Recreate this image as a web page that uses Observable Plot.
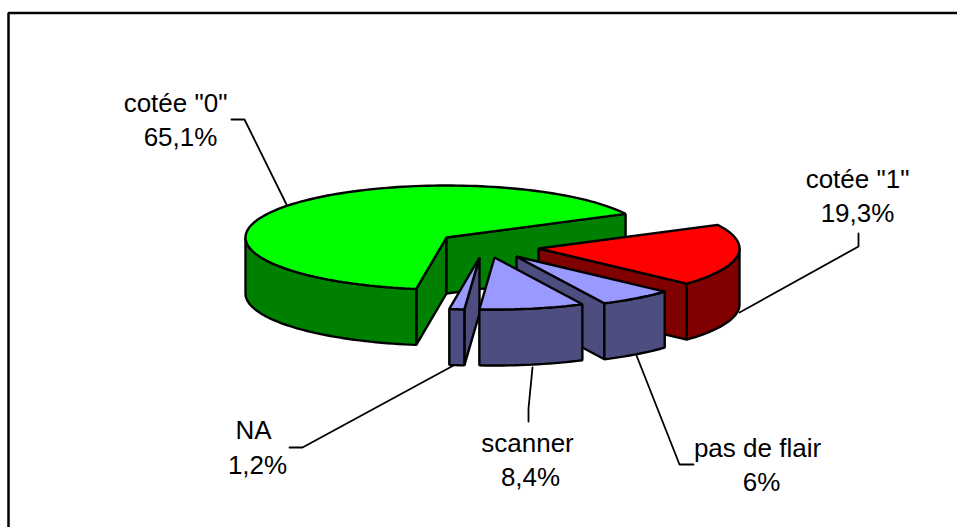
<!DOCTYPE html>
<html>
<head>
<meta charset="utf-8">
<script src="https://cdn.jsdelivr.net/npm/d3@7"></script>
<script src="https://cdn.jsdelivr.net/npm/@observablehq/plot@0.6"></script>
<style>html,body{margin:0;padding:0;background:#fff}svg{display:block}</style>
</head>
<body>
<script>
// Slices, clockwise from the pie's first angle
const categories = ['cotée "1"', "pas de flair", "scanner", "NA", 'cotée "0"'];
const shares = [19.3, 6, 8.4, 1.2, 65.1];

// Styling and layout
const topColors = ["#ff0000", "#9999ff", "#9999ff", "#9999ff", "#00ff00"];
const wallColors = ["#800000", "#4d4d80", "#4d4d80", "#4d4d80", "#008000"];
const hubs = [[538, 248], [516, 256], [494, 257], [479, 257], [446, 237]];
const paintOrder = [4, 0, 1, 3, 2];
const startDeg = 27, rx = 201, ry = 52, depth = 56;
const W = 957, H = 527;

const frame = [[8, H], [8, 12.5], [W, 12.5]];
const labelLines = [
  [[857, 187], [857, 221]],
  [[757, 456], [761, 490]],
  [[527, 451], [530, 485]],
  [[253, 438], [257, 473]],
  [[175, 111], [180, 145]]
];
const leaders = [
  [[858, 233], [858, 246], [739, 312]],
  [[693, 464], [679, 464], [636, 355]],
  [[532, 367], [528, 408], [528, 421]],
  [[289, 447], [302, 447], [453, 365]],
  [[231, 119], [244, 119], [286, 204]]
];

const pie = d3.pie().sort(null)
  .startAngle((90 - startDeg) * Math.PI / 180)
  .endAngle((90 - startDeg + 360) * Math.PI / 180);
const arcs = pie(shares);

const pct = v => String(v).replace(".", ",") + "%";

// a = clock angle, radians from 12 o'clock, clockwise
function arcPoints(hub, a0, a1) {
  const n = Math.max(2, Math.ceil(Math.abs(a1 - a0) / 0.03));
  return d3.range(n + 1).map(i => {
    const a = a0 + (a1 - a0) * i / n;
    return [hub[0] + rx * Math.sin(a), hub[1] - ry * Math.cos(a)];
  });
}
const rim = (hub, a) => arcPoints(hub, a, a)[0];
const down = p => [p[0], p[1] + depth];

const polys = [];
for (const i of paintOrder) {
  const {startAngle: a0, endAngle: a1} = arcs[i];
  const hub = hubs[i];
  const wall = wallColors[i], top = topColors[i];
  // cut faces that turn towards the viewer
  for (const [a, show] of [[a0, Math.sin(a0) < 0], [a1, Math.sin(a1) > 0]]) {
    if (show) {
      const e = rim(hub, a);
      polys.push({fill: wall, pts: [hub, e, down(e), down(hub)]});
    }
  }
  // curved outer wall: the part of the rim in the front half (clock angles 90..270 deg)
  const lo = Math.max(a0, Math.PI / 2), hi = Math.min(a1, 3 * Math.PI / 2);
  if (hi > lo) {
    const t = arcPoints(hub, lo, hi);
    polys.push({fill: wall, pts: [...t, ...t.slice().reverse().map(down)]});
  }
  // top face
  polys.push({fill: top, pts: [hub, ...arcPoints(hub, a0, a1)]});
}

const labelRows = categories.flatMap((c, i) => [
  {text: c, x: labelLines[i][0][0], y: labelLines[i][0][1]},
  {text: pct(shares[i]), x: labelLines[i][1][0], y: labelLines[i][1][1]}
]);

const chart = Plot.plot({
  width: W, height: H,
  margin: 0,
  style: {background: "#fff"},
  x: {domain: [0, W], range: [0, W], axis: null},
  y: {domain: [0, H], range: [0, H], axis: null},
  marks: [
    Plot.line(frame, {x: d => d[0], y: d => d[1], stroke: "#000", strokeWidth: 2.5, strokeLinejoin: "miter"}),
    ...polys.map(p => Plot.line(p.pts, {
      x: d => d[0], y: d => d[1],
      fill: p.fill, stroke: "#000", strokeWidth: 2.4,
      curve: "linear-closed", strokeLinejoin: "miter"
    })),
    ...leaders.map(l => Plot.line(l, {
      x: d => d[0], y: d => d[1], stroke: "#000", strokeWidth: 1.8, curve: "linear"
    })),
    Plot.text(labelRows, {
      x: "x", y: "y", text: "text",
      fontSize: 26, fontFamily: "Liberation Sans", fill: "#000",
      textAnchor: "middle", lineAnchor: "bottom"
    })
  ]
});
document.body.appendChild(chart);
</script>
</body>
</html>
